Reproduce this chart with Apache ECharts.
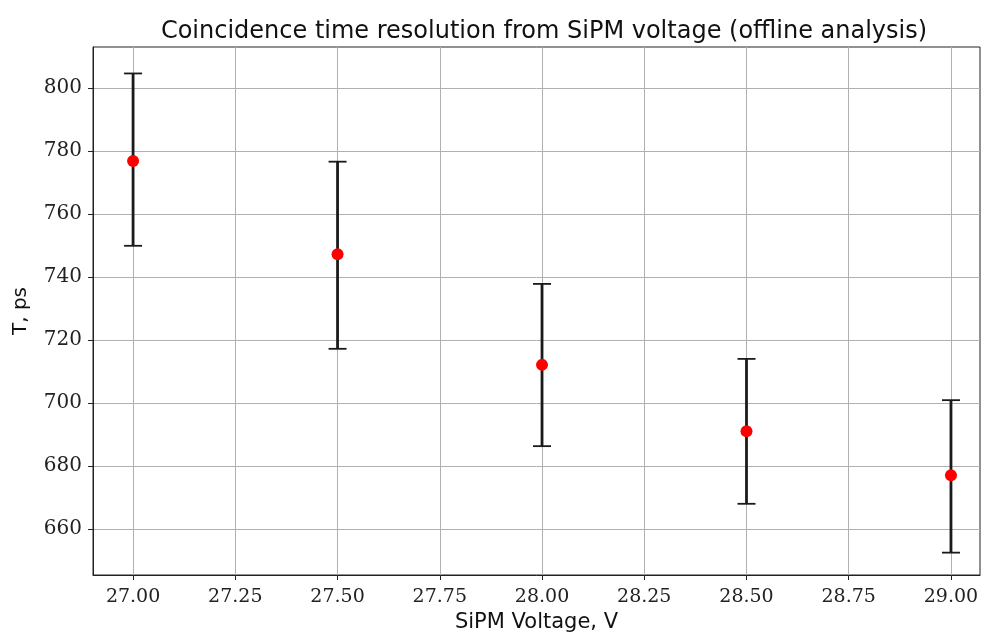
<!DOCTYPE html>
<html>
<head>
<meta charset="utf-8">
<script src="https://cdn.jsdelivr.net/npm/echarts@6/dist/echarts.min.js"></script>
<style>
  html, body { margin: 0; padding: 0; background: #fff; }
  #chart { width: 982px; height: 636px; }
</style>
</head>
<body>
<div id="chart"></div>
<script>
// SiPM voltage, V
var voltage = [27.0, 27.5, 28.0, 28.5, 29.0];
// coincidence time resolution, ps
var resolution = [776.8, 747.2, 712.1, 691.0, 677.1];
// error bar ends, ps
var errLow = [749.9, 717.2, 686.3, 668.0, 652.5];
var errHigh = [804.6, 776.6, 737.8, 714.0, 700.9];
// tick labels
var xTicks = [27.0, 27.25, 27.5, 27.75, 28.0, 28.25, 28.5, 28.75, 29.0];
var yTicks = [660, 680, 700, 720, 740, 760, 780, 800];

var errData = voltage.map(function (v, i) { return [v, errLow[i], errHigh[i]]; });
var pointData = voltage.map(function (v, i) { return [v, resolution[i]]; });

var option = {
    backgroundColor: '#fff',
    animation: false,
    title: {
        text: 'Coincidence time resolution from SiPM voltage (offline analysis)',
        left: 539,
        top: 15,
        textAlign: 'center',
        textStyle: {
            fontFamily: 'DejaVu Sans',
            fontWeight: 'normal',
            fontSize: 24,
            color: '#111'
        }
    },
    grid: {
        left: 93,
        right: 2,
        top: 47,
        bottom: 61,
        outerBoundsMode: 'none',
        show: true,
        borderColor: '#222',
        borderWidth: 1
    },
    xAxis: {
        type: 'value',
        min: 26.902,
        max: 29.071,
        name: 'SiPM Voltage, V',
        nameLocation: 'middle',
        nameGap: 37,
        nameTextStyle: { fontFamily: 'DejaVu Sans', fontSize: 21, color: '#111' },
        axisLine: { show: true, lineStyle: { color: '#222', width: 1 } },
        axisTick: { show: true, length: 5, lineStyle: { color: '#222' }, customValues: xTicks },
        axisLabel: {
            customValues: xTicks,
            margin: 13,
            fontFamily: 'DejaVu Serif',
            fontSize: 19,
            color: '#222',
            formatter: function (v) { return v.toFixed(2); }
        },
        splitLine: { show: true, lineStyle: { color: '#b0b0b0', width: 1 } }
    },
    yAxis: {
        type: 'value',
        min: 645.4,
        max: 813,
        name: 'T, ps',
        nameLocation: 'middle',
        nameGap: 62,
        nameTextStyle: { fontFamily: 'DejaVu Sans', fontSize: 20, color: '#111' },
        axisLine: { show: true, lineStyle: { color: '#222', width: 1 } },
        axisTick: { show: true, length: 5, lineStyle: { color: '#222' }, customValues: yTicks },
        axisLabel: {
            customValues: yTicks,
            margin: 11,
            fontFamily: 'DejaVu Serif',
            fontSize: 20,
            color: '#222'
        },
        splitLine: { show: true, lineStyle: { color: '#b0b0b0', width: 1 } }
    },
    series: [
        {
            name: 'error',
            type: 'custom',
            data: errData,
            z: 3,
            renderItem: function (params, api) {
                var x = api.value(0);
                var lo = api.coord([x, api.value(1)]);
                var hi = api.coord([x, api.value(2)]);
                var cap = 9;
                var capStyle = { stroke: '#1a1a1a', lineWidth: 1.8 };
                return {
                    type: 'group',
                    children: [
                        { type: 'line', shape: { x1: hi[0], y1: hi[1], x2: lo[0], y2: lo[1] }, style: { stroke: '#1a1a1a', lineWidth: 2.8 } },
                        { type: 'line', shape: { x1: hi[0] - cap, y1: hi[1], x2: hi[0] + cap, y2: hi[1] }, style: capStyle },
                        { type: 'line', shape: { x1: lo[0] - cap, y1: lo[1], x2: lo[0] + cap, y2: lo[1] }, style: capStyle }
                    ]
                };
            }
        },
        {
            name: 'T',
            type: 'scatter',
            data: pointData,
            z: 4,
            symbol: 'circle',
            symbolSize: 12,
            itemStyle: { color: '#ff0000', opacity: 1 }
        }
    ]
};

var myChart = echarts.init(document.getElementById('chart'));
myChart.setOption(option);
</script>
</body>
</html>
